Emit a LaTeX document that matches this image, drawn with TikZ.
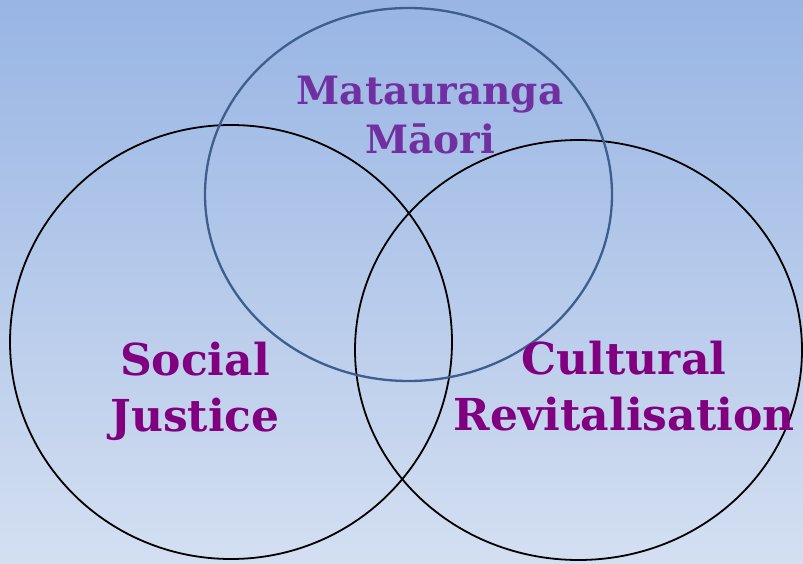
\documentclass[tikz,border=0pt]{standalone}
\usepackage{fontspec}
\setmainfont{DejaVu Serif}
\usetikzlibrary{shapes.geometric}
\definecolor{skytop}{RGB}{152,181,228}
\definecolor{skybottom}{RGB}{212,223,241}
\definecolor{ringblue}{RGB}{62,94,140}
\definecolor{violet}{RGB}{112,48,160}
\definecolor{plum}{RGB}{128,0,128}
\tikzset{
  ring/.style={ellipse, draw=black, line width=1.8pt, inner sep=0pt},
  bigword/.style={text=plum, align=center, font=\bfseries\fontsize{44}{56}\selectfont},
}

\begin{document}
\begin{tikzpicture}[x=1pt, y=-1pt]
\useasboundingbox (0, 0) rectangle (803, 564);
\shade[top color=skytop, bottom color=skybottom] (0, 0) rectangle (803, 564);
% the three rings
\node[ring, minimum width=442, minimum height=434](SJ) at (231, 342) {};
\node[ring, minimum width=447, minimum height=420](CR) at (578.5, 350) {};
\node[ring, draw=ringblue, line width=2.3pt, minimum width=407, minimum height=373](MM) at (408.5, 194.5) {};
% labels
\node[text=violet, align=center, font=\bfseries\fontsize{39}{49}\selectfont](mm) at (430, 115) {Matauranga\\Māori};
\node[bigword](sj) at (195, 391) {Social\\Justice};
\node[bigword](cr) at (624, 386) {Cultural\\Revitalisation};
\end{tikzpicture}
\end{document}
